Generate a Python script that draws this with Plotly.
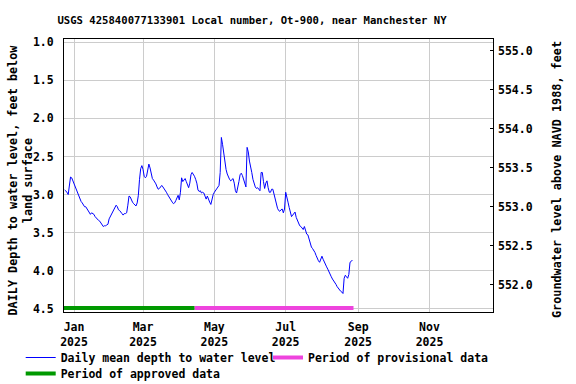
import pandas as pd
import plotly.graph_objects as go

TITLE = "USGS 425840077133901 Local number, Ot-900, near Manchester NY"
START_DATE = "2024-12-24"
END_DATE = "2025-08-27"
DEPTH = [
    2.94, 2.95, 2.97, 3.00, 2.84, 2.77, 2.78, 2.82, 2.86, 2.89,
    2.94, 2.99, 3.03, 3.07, 3.09, 3.11, 3.14, 3.16, 3.16, 3.19,
    3.21, 3.23, 3.26, 3.24, 3.25, 3.26, 3.29, 3.31, 3.33, 3.34,
    3.35, 3.38, 3.40, 3.42, 3.41, 3.41, 3.40, 3.39, 3.32, 3.29,
    3.26, 3.23, 3.20, 3.17, 3.14, 3.16, 3.20, 3.21, 3.24, 3.25,
    3.27, 3.25, 3.25, 3.24, 3.14, 3.02, 3.03, 3.07, 3.10, 3.12,
    3.14, 3.15, 3.11, 3.01, 2.80, 2.66, 2.62, 2.67, 2.76, 2.78,
    2.76, 2.70, 2.60, 2.65, 2.73, 2.79, 2.81, 2.83, 2.86, 2.90,
    2.93, 2.92, 2.89, 2.88, 2.90, 2.92, 2.94, 2.97, 3.00, 3.03,
    3.05, 3.07, 3.10, 3.12, 3.11, 3.08, 3.04, 3.01, 3.07, 2.97,
    2.78, 2.83, 2.81, 2.79, 2.83, 2.88, 2.91, 2.85, 2.74, 2.71,
    2.73, 2.76, 2.80, 2.85, 2.94, 2.96, 2.95, 2.98, 2.97, 2.98,
    3.02, 3.06, 3.02, 3.07, 3.10, 3.13, 3.04, 3.00, 2.97, 2.95,
    2.93, 2.90, 2.88, 2.71, 2.25, 2.34, 2.47, 2.53, 2.67, 2.73,
    2.77, 2.80, 2.82, 2.81, 2.79, 2.85, 2.95, 2.98, 2.92, 2.83,
    2.74, 2.72, 2.75, 2.81, 2.87, 2.90, 2.38, 2.44, 2.56, 2.62,
    2.71, 2.80, 2.86, 2.90, 2.92, 2.91, 2.93, 2.95, 2.71, 2.71,
    2.83, 2.92, 2.85, 2.82, 2.91, 2.97, 2.97, 2.93, 2.93, 3.00,
    3.07, 3.13, 3.18, 3.21, 3.22, 3.20, 3.19, 3.24, 3.19, 2.97,
    3.02, 3.10, 3.17, 3.24, 3.29, 3.27, 3.25, 3.23, 3.30, 3.34,
    3.38, 3.41, 3.42, 3.45, 3.46, 3.42, 3.49, 3.52, 3.53, 3.59,
    3.65, 3.69, 3.71, 3.73, 3.76, 3.80, 3.84, 3.87, 3.89, 3.86,
    3.81, 3.85, 3.89, 3.92, 3.95, 3.98, 4.02, 4.05, 4.08, 4.11,
    4.13, 4.15, 4.18, 4.21, 4.23, 4.26, 4.27, 4.28, 4.30, 4.10,
    4.06, 4.08, 4.10, 4.05, 3.89, 3.88, 3.86,
]
APPROVED_PERIOD = ["2024-12-22", "2025-04-14"]
PROVISIONAL_PERIOD = ["2025-04-14", "2025-08-28"]
PERIOD_LEVEL = 4.49
TICK_DATES = ["2025-01-01", "2025-03-01", "2025-05-01", "2025-07-01", "2025-09-01", "2025-11-01"]
TICK_TEXT = ["Jan<br>2025", "Mar<br>2025", "May<br>2025", "Jul<br>2025", "Sep<br>2025", "Nov<br>2025"]
LEFT_TICKS = [1.0, 1.5, 2.0, 2.5, 3.0, 3.5, 4.0, 4.5]
RIGHT_TICKS = [552.0, 552.5, 553.0, 553.5, 554.0, 554.5, 555.0]

dates = pd.date_range(START_DATE, END_DATE, freq="D")
assert len(dates) == len(DEPTH)

FONT = "DejaVu Sans Mono"
W, H = 576, 384
L, R, T, B = 64, 83, 39, 72
PW, PH = W - L - R, H - T - B


def px_x(px):
    return (px - L) / PW


def px_y(py):
    return (H - B - py) / PH


fig = go.Figure()
fig.add_trace(go.Scatter(x=dates, y=DEPTH, mode="lines", name="Daily mean depth to water level",
                         line=dict(color="#0000FF", width=1), legend="legend"))
fig.add_trace(go.Scatter(x=PROVISIONAL_PERIOD, y=[PERIOD_LEVEL] * 2, mode="lines",
                         name="Period of provisional data", line=dict(color="#EE44DD", width=4),
                         legend="legend2"))
fig.add_trace(go.Scatter(x=APPROVED_PERIOD, y=[PERIOD_LEVEL] * 2, mode="lines",
                         name="Period of approved data", line=dict(color="#009900", width=4),
                         legend="legend3"))
fig.add_trace(go.Scatter(x=[], y=[], yaxis="y2", showlegend=False))

leg_common = dict(orientation="v", xanchor="left", yanchor="top",
                  font=dict(size=11.5), bgcolor="rgba(0,0,0,0)", tracegroupgap=0, borderwidth=0)

fig.update_layout(
    template="none",
    width=W, height=H,
    margin=dict(l=L, r=R, t=T, b=B, autoexpand=False),
    paper_bgcolor="white", plot_bgcolor="white",
    font=dict(family=FONT, size=11, color="black", weight="bold"),
    title=dict(text=TITLE, x=252 / W, xanchor="center", y=1 - 20 / H, yanchor="middle",
               font=dict(family=FONT, size=10.6, weight="bold")),
    xaxis=dict(range=["2024-12-23 10:00", "2025-12-25 07:00"], tickvals=TICK_DATES, ticktext=TICK_TEXT,
               showgrid=True, gridcolor="#CCCCCC", gridwidth=1, showline=True, linecolor="black",
               linewidth=1, mirror=True, ticks="", ticklabelstandoff=4, tickfont=dict(size=11.5),
               zeroline=False, automargin=False),
    yaxis=dict(range=[4.543, 0.9566], tickvals=LEFT_TICKS, tickformat=".1f",
               showgrid=True, gridcolor="#CCCCCC", gridwidth=1, showline=True, linecolor="black",
               linewidth=1, mirror=True, ticks="", ticklabelstandoff=7, tickfont=dict(size=11.5),
               zeroline=False, automargin=False),
    yaxis2=dict(range=[551.654, 555.150], tickvals=RIGHT_TICKS, tickformat=".1f", overlaying="y",
                side="right", showgrid=False, ticks="inside", ticklen=3, tickcolor="black",
                ticklabelstandoff=4, tickfont=dict(size=11.5), zeroline=False, automargin=False),
    legend=dict(x=px_x(20.7), y=px_y(343), **leg_common),
    legend2=dict(x=px_x(268), y=px_y(343), **leg_common),
    legend3=dict(x=px_x(20.7), y=px_y(359), **leg_common),
    showlegend=True,
)
fig.add_annotation(text="DAILY Depth to water level, feet below<br>land surface", textangle=-90,
                   xref="paper", yref="paper", x=px_x(20.5), y=px_y(180),
                   xanchor="center", yanchor="middle", showarrow=False,
                   font=dict(size=11.8))
fig.add_annotation(text="Groundwater level above NAVD 1988, feet", textangle=-90,
                   xref="paper", yref="paper", x=px_x(557), y=px_y(180),
                   xanchor="center", yanchor="middle", showarrow=False,
                   font=dict(size=11.8))

fig.write_html("out.html", config={"displayModeBar": False},
               post_script="document.body.style.margin='0px';")
